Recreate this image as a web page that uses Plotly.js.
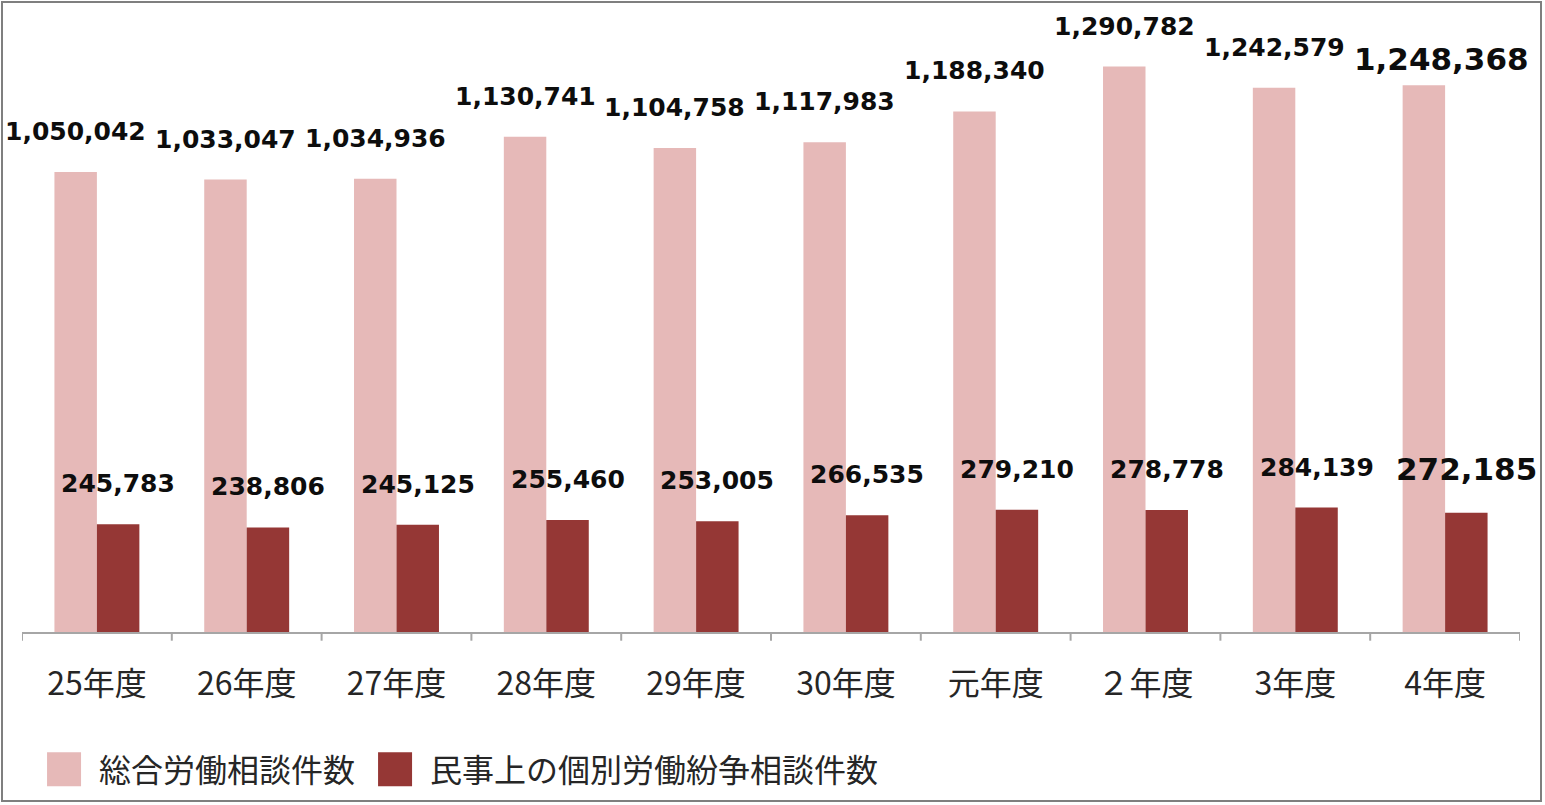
<!DOCTYPE html>
<html>
<head>
<meta charset="utf-8">
<script src="https://cdn.plot.ly/plotly-3.0.1.min.js"></script>
<style>
    html, body { margin: 0; padding: 0; background: #fff; }
    #chart { width: 1545px; height: 805px; }
    #frame {
        position: absolute; left: 1px; top: 1px;
        width: 1541px; height: 801px;
        border: 2px solid #7f7f7f; box-sizing: border-box;
        pointer-events: none;
    }
</style>
</head>
<body>
<div id="chart"></div>
<div id="frame"></div>
<script>
// Fiscal years (Heisei 25 .. Reiwa 4)
const years = ['25年度', '26年度', '27年度', '28年度', '29年度', '30年度', '元年度', '２年度', '3年度', '4年度'];

// 総合労働相談件数
const totalConsult = [1050042, 1033047, 1034936, 1130741, 1104758, 1117983, 1188340, 1290782, 1242579, 1248368];

// 民事上の個別労働紛争相談件数
const civilConsult = [245783, 238806, 245125, 255460, 253005, 266535, 279210, 278778, 284139, 272185];

const seriesNames = ['総合労働相談件数', '民事上の個別労働紛争相談件数'];
const seriesColors = ['#e6b9b8', '#953735'];

const barGap = 0.433;
const labelFont = 'Verdana, "DejaVu Sans", sans-serif';
const jpFont = '"Noto Sans CJK JP", "Noto Sans", sans-serif';

const fmt = v => v.toLocaleString('en-US');

const traces = [totalConsult, civilConsult].map((vals, k) => ({
    type: 'bar',
    name: seriesNames[k],
    x: years.map((_, i) => i),
    y: vals,
    marker: { color: seriesColors[k], line: { width: 0 } },
    hoverinfo: 'x+y'
}));

// Value labels sit above each bar; the latest year is emphasised
const barHalf = (1 - barGap) / 4;
const annotations = [];
[totalConsult, civilConsult].forEach((vals, k) => {
    vals.forEach((v, i) => {
        const last = i === vals.length - 1;
        annotations.push({
            x: i + (k === 0 ? -barHalf : barHalf),
            y: v,
            xref: 'x',
            yref: 'y',
            text: fmt(v),
            showarrow: false,
            yanchor: 'bottom',
            yshift: last && k === 0 ? 6 : 24,
            xshift: last && k === 0 ? 18 : 0,
            font: { family: labelFont, size: last ? 31 : 25, weight: 'bold', color: '#0d0d0d' }
        });
    });
});

const layout = {
    width: 1545,
    height: 805,
    plot_bgcolor: '#ffffff',
    paper_bgcolor: '#ffffff',
    margin: { l: 22, r: 25, t: 10, b: 173 },
    barmode: 'group',
    bargap: barGap,
    bargroupgap: 0,
    xaxis: {
        type: 'linear',
        range: [-0.5, years.length - 0.5],
        tickmode: 'array',
        tickvals: years.map((_, i) => i),
        ticktext: years,
        showline: true,
        linecolor: '#a6a6a6',
        linewidth: 2,
        ticks: '',
        showgrid: false,
        zeroline: false,
        ticklabelstandoff: 23,
        tickfont: { family: jpFont, size: 32, color: '#262626' }
    },
    yaxis: {
        range: [0, 1420000],
        visible: false,
        fixedrange: true
    },
    annotations: annotations,
    showlegend: true,
    legend: {
        orientation: 'h',
        xref: 'container',
        yref: 'container',
        x: 0.0188,
        xanchor: 'left',
        y: 0.0783,
        yanchor: 'top',
        itemwidth: 60,
        font: { family: jpFont, size: 32, color: '#262626' },
        bgcolor: 'rgba(0,0,0,0)'
    },
    // category boundary ticks, as in the source
    shapes: years.concat(['']).map((_, i) => ({
        type: 'line',
        xref: 'x',
        yref: 'paper',
        x0: i - 0.5,
        x1: i - 0.5,
        y0: 0,
        y1: -0.014,
        line: { color: '#a6a6a6', width: 2 }
    }))
};

const config = { responsive: false, displayModeBar: false, staticPlot: true };

Plotly.newPlot('chart', traces, layout, config).then(gd => {
    // enlarge legend keys to the square swatches of the source chart
    gd.querySelectorAll('.legend .legendpoints path').forEach(p => {
        p.setAttribute('d', 'M17,17H-17V-17H17Z');
    });
});
</script>
</body>
</html>
